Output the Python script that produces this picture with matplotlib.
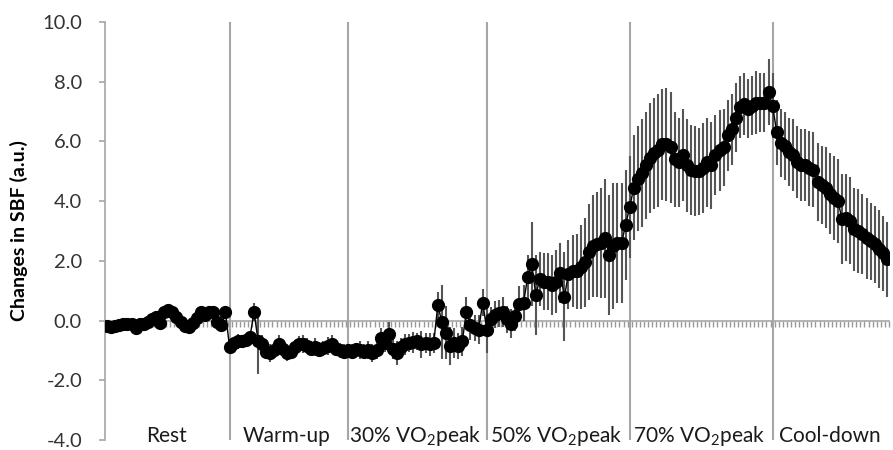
import numpy as np
import matplotlib
matplotlib.use("Agg")
import matplotlib.pyplot as plt

plt.rcParams['font.family'] = ['Lato', 'DejaVu Sans']
plt.rcParams['mathtext.default'] = 'regular'

# phase names shown under the axis
phases = ["Rest", "Warm-up", "30% VO$_2$peak", "50% VO$_2$peak",
          "70% VO$_2$peak", "Cool-down"]

# mean change in SBF (a.u.) per time point, one list per phase
rest_mean = [-0.18, -0.2, -0.18, -0.15, -0.12, -0.1, -0.12, -0.25, -0.12, -0.1,
             -0.05, 0.05, 0.12, -0.08, 0.3, 0.35, 0.28, 0.12, -0.05, -0.18,
             -0.2, -0.08, 0.1, 0.28, 0.2, 0.3, 0.3, -0.05, -0.15, 0.28]
warm_mean = [-0.9, -0.75, -0.7, -0.68, -0.65, -0.55, 0.3, -0.7, -0.8, -1.05,
             -1.1, -1.0, -0.78, -0.95, -1.1, -1.05, -0.9, -0.78, -0.78, -0.85,
             -0.95, -0.9, -0.98, -0.92, -0.85, -0.78, -0.95, -1.0, -1.05]
p30_mean = [-1.0, -1.05, -0.95, -1.0, -1.05, -1.0, -1.1, -1.0, -0.6, -0.75,
            -0.45, -0.95, -1.1, -0.9, -0.8, -0.75, -0.72, -0.7, -0.8, -0.75,
            -0.8, -0.75, 0.52, -0.05, -0.4, -0.85, -0.75, -0.85, -0.7, 0.3,
            -0.15, -0.25, -0.3, 0.6]
p50_mean = [-0.3, 0.05, 0.2, 0.25, 0.3, 0.05, -0.1, 0.15, 0.55, 0.6,
            1.45, 1.9, 0.85, 1.4, 1.3, 1.3, 1.2, 1.3, 1.6, 0.8,
            1.55, 1.65, 1.65, 1.8, 1.95, 2.3, 2.5, 2.55, 2.6, 2.75,
            2.2, 2.5, 2.6, 2.6, 3.2]
p70_mean = [3.8, 4.45, 4.75, 4.95, 5.2, 5.45, 5.6, 5.7, 5.9, 5.9,
            5.8, 5.4, 5.3, 5.55, 5.2, 5.05, 5.0, 5.0, 5.1, 5.3,
            5.2, 5.55, 5.7, 5.8, 6.2, 6.4, 6.8, 7.15, 7.25, 7.1,
            7.2, 7.3, 7.3, 7.3, 7.65]
cool_mean = [7.2, 6.3, 5.95, 5.85, 5.65, 5.55, 5.3, 5.2, 5.2, 5.1,
             5.05, 4.65, 4.55, 4.45, 4.25, 4.1, 4.0, 3.4, 3.45, 3.35,
             3.05, 3.0, 2.9, 2.75, 2.65, 2.55, 2.4, 2.25, 2.05]

# error bar half-lengths
rest_err = [0.08, 0.08, 0.1, 0.1, 0.1, 0.1, 0.12, 0.1, 0.1, 0.12,
            0.1, 0.12, 0.12, 0.1, 0.12, 0.12, 0.12, 0.1, 0.1, 0.12,
            0.12, 0.12, 0.12, 0.12, 0.12, 0.12, 0.12, 0.12, 0.15, 0.15]
warm_err = [0.15, 0.2, 0.25, 0.2, 0.2, 0.2, 0.3, 1.1, 0.3, 0.25,
            0.3, 0.25, 0.3, 0.25, 0.25, 0.25, 0.25, 0.25, 0.3, 0.25,
            0.25, 0.3, 0.25, 0.25, 0.3, 0.3, 0.25, 0.25, 0.25]
p30_err = [0.2, 0.25, 0.2, 0.3, 0.25, 0.3, 0.3, 0.3, 0.35, 0.3,
           0.4, 0.35, 0.4, 0.3, 0.35, 0.3, 0.35, 0.3, 0.45, 0.35,
           0.4, 0.35, 0.45, 1.25, 0.9, 0.65, 0.5, 0.45, 0.5, 0.5,
           0.5, 0.45, 0.5, 0.45]
p50_err = [0.8, 0.4, 0.45, 0.45, 0.5, 0.45, 0.5, 0.5, 0.6, 0.6,
           0.75, 1.4, 1.35, 0.9, 0.95, 0.95, 1.0, 1.05, 1.0, 1.5,
           1.15, 1.2, 1.25, 1.4, 1.5, 1.6, 1.7, 1.75, 1.85, 2.0,
           2.0, 2.1, 2.0, 2.0, 1.85]
p70_err = [1.7, 1.75, 1.75, 1.8, 1.8, 1.85, 1.85, 1.9, 1.85, 1.9,
           1.85, 1.6, 1.5, 1.55, 1.55, 1.5, 1.5, 1.45, 1.5, 1.5,
           1.45, 1.35, 1.35, 1.3, 1.2, 1.2, 1.15, 1.05, 1.05, 1.0,
           1.0, 1.05, 1.0, 1.0, 1.1]
cool_err = [1.1, 1.1, 1.15, 1.15, 1.15, 1.2, 1.2, 1.2, 1.2, 1.25,
            1.25, 1.3, 1.3, 1.35, 1.35, 1.4, 1.4, 1.5, 1.45, 1.45,
            1.4, 1.4, 1.35, 1.35, 1.3, 1.3, 1.3, 1.25, 1.25]

means = [rest_mean, warm_mean, p30_mean, p50_mean, p70_mean, cool_mean]
errs = [rest_err, warm_err, p30_err, p50_err, p70_err, cool_err]

y = np.concatenate(means)
yerr = np.concatenate(errs)
x = np.arange(len(y))
n = len(y)

sizes = [len(m) for m in means]
starts = np.cumsum([0] + sizes[:-1])
ends = np.cumsum(sizes)

grey = '#a6a6a6'

fig = plt.figure(figsize=(8.93, 4.5), dpi=100)
ax = fig.add_axes([0.1176, 0.0222, 0.8779, 0.929])

ax.errorbar(x, y, yerr=yerr, fmt='-o', color='black', lw=1, ms=8.5,
            ecolor='#555555', elinewidth=1.5, capsize=0, zorder=3)

# phase separators
for s in starts[1:]:
    ax.plot([s, s], [-4, 10], color=grey, lw=1.5, zorder=1)

ax.set_xlim(-0.5, n - 0.5)
ax.set_ylim(-4, 10)
ax.set_yticks(np.arange(-4, 10.1, 2))
ax.set_yticklabels([f"{v:.1f}" for v in np.arange(-4, 10.1, 2)])

ax.spines['top'].set_visible(False)
ax.spines['right'].set_visible(False)
ax.spines['left'].set_color(grey)
ax.spines['left'].set_linewidth(1.2)
ax.spines['bottom'].set_position(('data', 0))
ax.spines['bottom'].set_color(grey)
ax.spines['bottom'].set_linewidth(1.2)

ax.set_xticks(np.arange(-0.5, n, 1))
ax.set_xticklabels([])
ax.tick_params(axis='x', direction='out', length=4, width=1, color='#999999')
ax.tick_params(axis='y', direction='out', length=4.5, width=1.2, color=grey,
               labelsize=14.5, labelcolor='#333333', pad=12)

ax.set_ylabel("Changes in SBF (a.u.)", fontsize=14, fontweight='bold',
              labelpad=10)

for name, s, e in zip(phases, starts, ends):
    ax.text((s + e - 1) / 2, -3.88, name, ha='center', va='center',
            fontsize=15, color='#1a1a1a')

fig.savefig("out.png", dpi=100)
